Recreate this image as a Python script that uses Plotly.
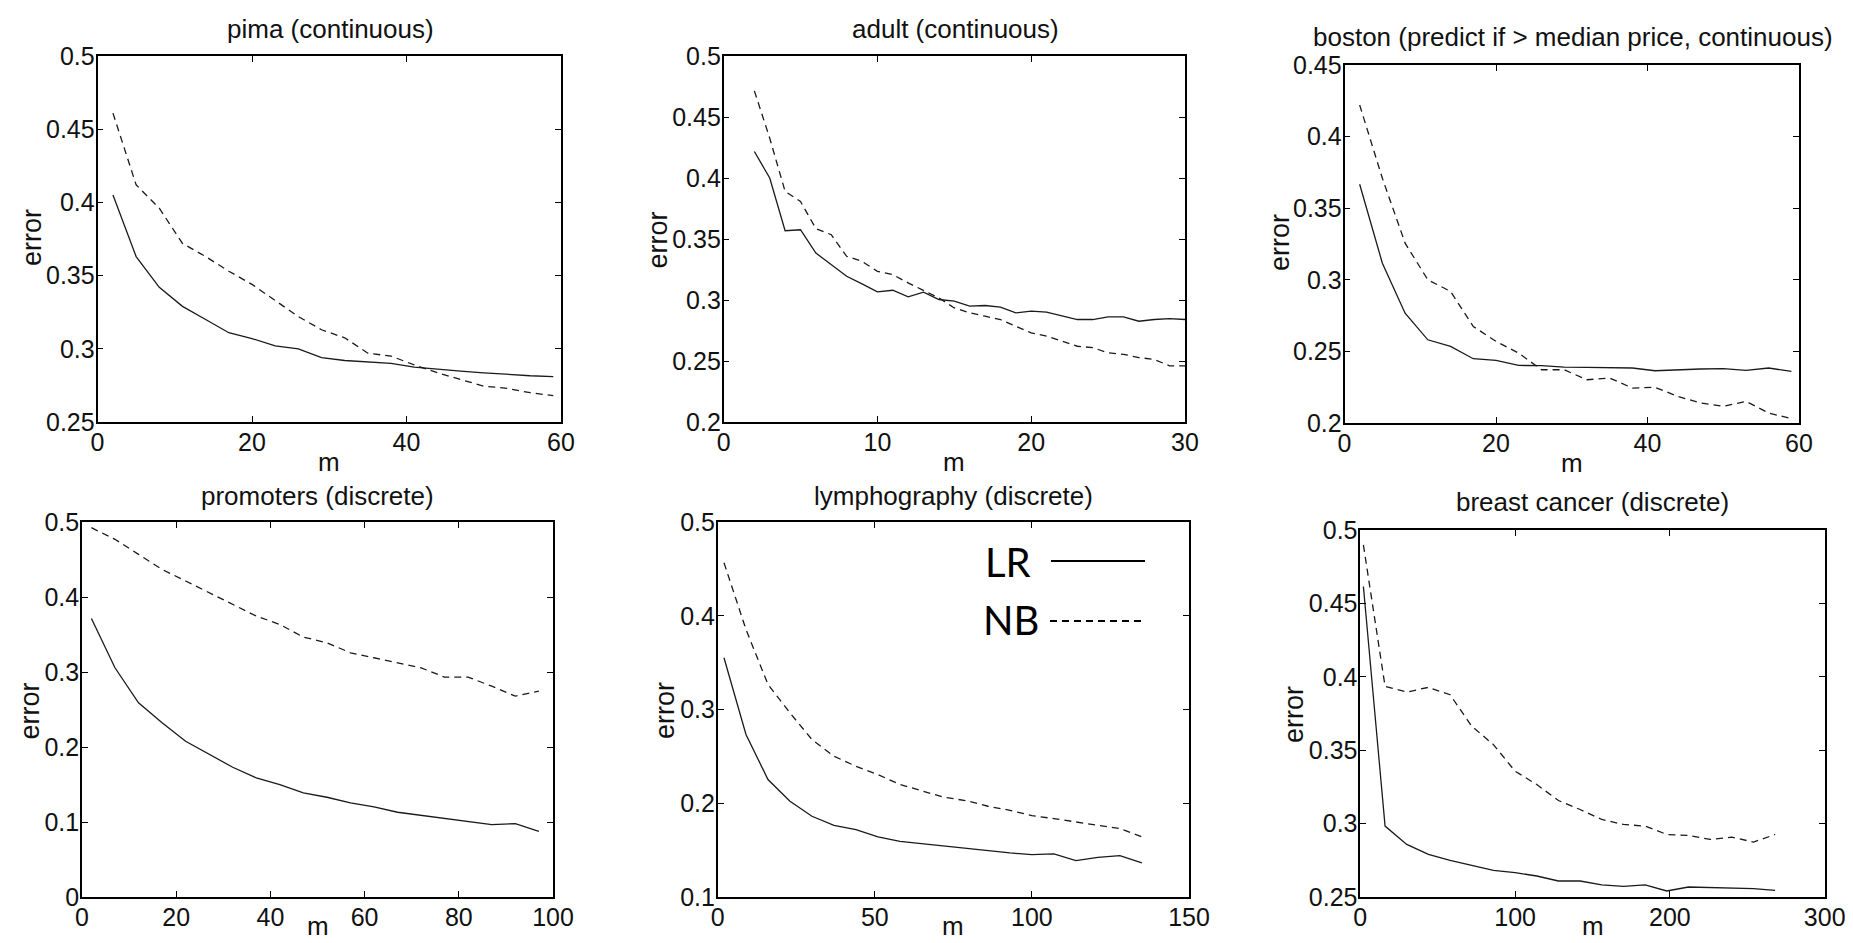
import plotly.graph_objects as go

# ---------------- data ----------------
pima_m = [2, 5, 8, 11, 14, 17, 20, 23, 26, 29, 32, 35, 38, 41, 44, 47, 50, 53, 56, 59]
pima_lr = [0.405, 0.363, 0.342, 0.329, 0.320, 0.311, 0.307, 0.302, 0.300, 0.294,
           0.292, 0.291, 0.290, 0.2875, 0.286, 0.2848, 0.2836, 0.2825, 0.2816, 0.281]
pima_nb = [0.461, 0.412, 0.396, 0.372, 0.363, 0.353, 0.344, 0.333, 0.322, 0.313,
           0.3075, 0.297, 0.295, 0.289, 0.2836, 0.279, 0.2745, 0.273, 0.270, 0.268]

adult_m = [2, 3, 4, 5, 6, 7, 8, 9, 10, 11, 12, 13, 14, 15, 16, 17, 18, 19, 20, 21,
           22, 23, 24, 25, 26, 27, 28, 29, 30]
adult_lr = [0.4217, 0.400, 0.3568, 0.3576, 0.3385, 0.329, 0.3195, 0.3132, 0.3066, 0.308,
            0.3026, 0.3064, 0.3004, 0.299, 0.295, 0.2955, 0.2941, 0.2895, 0.2908, 0.290,
            0.2867, 0.284, 0.284, 0.2862, 0.2862, 0.2826, 0.284, 0.2848, 0.284]
adult_nb = [0.4714, 0.4326, 0.389, 0.3808, 0.3585, 0.3535, 0.3358, 0.3317, 0.3235, 0.3208,
            0.314, 0.3077, 0.3017, 0.2935, 0.2895, 0.2867, 0.284, 0.2785, 0.273, 0.2704,
            0.2663, 0.2621, 0.261, 0.2567, 0.2555, 0.2528, 0.2513, 0.246, 0.246]

boston_m = [2, 5, 8, 11, 14, 17, 20, 23, 26, 29, 32, 35, 38, 41, 44, 47, 50, 53, 56, 59]
boston_lr = [0.3667, 0.3116, 0.2767, 0.2581, 0.2535, 0.2449, 0.2437, 0.2402, 0.2400, 0.2390,
             0.2388, 0.2388, 0.2384, 0.2365, 0.2372, 0.2377, 0.2380, 0.2367, 0.2384, 0.2360]
boston_nb = [0.4221, 0.3709, 0.3256, 0.3000, 0.2919, 0.2674, 0.2570, 0.2488, 0.2372, 0.2372,
             0.2302, 0.2314, 0.2244, 0.2249, 0.2186, 0.2140, 0.2116, 0.2151, 0.2070, 0.2030]

promoters_m = [2, 7, 12, 17, 22, 27, 32, 37, 42, 47, 52, 57, 62, 67, 72, 77, 82, 87, 92, 97]
promoters_lr = [0.3714, 0.3056, 0.2589, 0.2322, 0.2077, 0.190, 0.173, 0.1588, 0.1499, 0.1388,
                0.133, 0.1254, 0.1201, 0.113, 0.109, 0.1054, 0.101, 0.0965, 0.0979, 0.0876]
promoters_nb = [0.4924, 0.4769, 0.4569, 0.4368, 0.4213, 0.4057, 0.3892, 0.3746, 0.3634, 0.3465,
                0.339, 0.3256, 0.319, 0.3123, 0.3056, 0.2931, 0.2931, 0.2811, 0.2678, 0.2745]

lympho_m = [2, 9, 16, 23, 30, 37, 44, 51, 58, 65, 72, 79, 86, 93, 100, 107, 114, 121, 128, 135]
lympho_lr = [0.3552, 0.2733, 0.2253, 0.2021, 0.1861, 0.1765, 0.1719, 0.1641, 0.1594, 0.1569,
             0.1541, 0.1516, 0.1495, 0.147, 0.1452, 0.1459, 0.1388, 0.1423, 0.1441, 0.1363]
lympho_nb = [0.4566, 0.3854, 0.3267, 0.2964, 0.268, 0.2502, 0.2395, 0.2306, 0.220, 0.2128,
             0.2064, 0.2028, 0.1968, 0.1925, 0.1868, 0.1836, 0.1797, 0.1765, 0.173, 0.1641]

breast_m = [2, 16, 30, 44, 58, 72, 86, 100, 114, 128, 142, 156, 170, 184, 198, 212, 226, 240, 254, 268]
breast_lr = [0.4615, 0.2983, 0.2858, 0.279, 0.2749, 0.2715, 0.2681, 0.2666, 0.2643, 0.2609,
             0.2609, 0.2582, 0.2573, 0.2582, 0.2541, 0.2568, 0.2564, 0.2559, 0.2557, 0.2545]
breast_nb = [0.4898, 0.3935, 0.3896, 0.3928, 0.3878, 0.3663, 0.3538, 0.3357, 0.3266, 0.3157,
             0.3096, 0.3028, 0.2994, 0.2983, 0.2926, 0.2919, 0.2892, 0.2908, 0.2874, 0.2926]

titles = ["pima (continuous)", "adult (continuous)",
          "boston (predict if > median price, continuous)",
          "promoters (discrete)", "lymphography (discrete)", "breast cancer (discrete)"]

x_ticks = [[0, 20, 40, 60], [0, 10, 20, 30], [0, 20, 40, 60],
           [0, 20, 40, 60, 80, 100], [0, 50, 100, 150], [0, 100, 200, 300]]
y_ticks = [[0.25, 0.3, 0.35, 0.4, 0.45, 0.5], [0.2, 0.25, 0.3, 0.35, 0.4, 0.45, 0.5],
           [0.2, 0.25, 0.3, 0.35, 0.4, 0.45], [0, 0.1, 0.2, 0.3, 0.4, 0.5],
           [0.1, 0.2, 0.3, 0.4, 0.5], [0.25, 0.3, 0.35, 0.4, 0.45, 0.5]]

series_names = ["LR", "NB"]

datasets = [
    (pima_m, pima_lr, pima_nb),
    (adult_m, adult_lr, adult_nb),
    (boston_m, boston_lr, boston_nb),
    (promoters_m, promoters_lr, promoters_nb),
    (lympho_m, lympho_lr, lympho_nb),
    (breast_m, breast_lr, breast_nb),
]

# ---------------- layout (pixel boxes of each panel) ----------------
W, H = 1853, 943
boxes = [  # left, right, top, bottom in pixels
    (89.5, 553, 48, 414),
    (715.6, 1177, 48, 414),
    (1336.5, 1791, 57, 415),
    (74, 545, 514, 889),
    (709.7, 1181, 514, 889),
    (1352.3, 1816.7, 522, 889),
]
title_pos = [(322, 21), (947, 21), (1565, 29), (309, 488), (945, 488), (1584.5, 494)]
ylabel_pos = [(24, 230), (649.5, 232), (1272, 235), (21.6, 703), (657, 703), (1286, 707)]

FONT = "Liberation Sans, Arial, Helvetica, sans-serif"
INK = "#111111"


def px_x(v):
    return v / W


def px_y(v):
    return 1 - v / H


fig = go.Figure()
layout = dict(
    template="none",
    width=W, height=H, autosize=False,
    margin=dict(l=0, r=0, t=0, b=0, pad=0, autoexpand=False),
    paper_bgcolor="white", plot_bgcolor="white",
    showlegend=False,
    font=dict(family=FONT, color=INK),
)
annotations = []

for i, ((m, lr, nb), box) in enumerate(zip(datasets, boxes)):
    k = "" if i == 0 else str(i + 1)
    xa, ya = "x" + k, "y" + k
    fig.add_trace(go.Scatter(x=m, y=lr, mode="lines", name=series_names[0],
                             line=dict(color="#1a1a1a", width=1.3),
                             xaxis=xa, yaxis=ya))
    fig.add_trace(go.Scatter(x=m, y=nb, mode="lines", name=series_names[1],
                             line=dict(color="#1a1a1a", width=1.3, dash="7px,5px"),
                             xaxis=xa, yaxis=ya))
    l, r, t, b = box
    xt, yt = x_ticks[i], y_ticks[i]
    common = dict(showline=True, mirror="allticks", linecolor="black", linewidth=1.6,
                  ticks="inside", ticklen=6, tickwidth=1, tickcolor="black",
                  showgrid=False, zeroline=False, fixedrange=True, automargin=False,
                  tickfont=dict(family=FONT, size=25, color=INK))
    layout["xaxis" + k] = dict(domain=[px_x(l), px_x(r)], anchor=ya,
                               range=[xt[0], xt[-1]], tickvals=xt,
                               ticktext=[f"{v:g}" for v in xt],
                               ticklabelstandoff=-3, **common)
    layout["yaxis" + k] = dict(domain=[px_y(b), px_y(t)], anchor=xa,
                               range=[yt[0], yt[-1]], tickvals=yt,
                               ticktext=[f"{v:g}" for v in yt],
                               ticklabelstandoff=-4, **common)
    tx, ty = title_pos[i]
    annotations.append(dict(text=titles[i], x=px_x(tx), y=px_y(ty), xref="paper", yref="paper",
                            xanchor="center", yanchor="middle", showarrow=False,
                            font=dict(family=FONT, size=26, color=INK)))
    ex, ey = ylabel_pos[i]
    annotations.append(dict(text="error", x=px_x(ex), y=px_y(ey), xref="paper", yref="paper",
                            xanchor="center", yanchor="middle", showarrow=False, textangle=-90,
                            font=dict(family=FONT, size=27, color=INK)))
    if i < 3:
        m_y, m_anchor = px_y(b + 40), "middle"
    else:
        m_y, m_anchor = px_y(935), "bottom"
    annotations.append(dict(text="m", x=px_x((l + r) / 2), y=m_y, xref="paper", yref="paper",
                            xanchor="center", yanchor=m_anchor, showarrow=False,
                            font=dict(family=FONT, size=26, color=INK)))

# legend drawn inside the lymphography panel
LEG_FONT = "Lato, Open Sans, sans-serif"
annotations.append(dict(text=series_names[0], x=px_x(975), y=px_y(554), xref="paper", yref="paper",
                        xanchor="left", yanchor="middle", showarrow=False,
                        font=dict(family=LEG_FONT, size=40, color="black")))
annotations.append(dict(text=series_names[1], x=px_x(973), y=px_y(612), xref="paper", yref="paper",
                        xanchor="left", yanchor="middle", showarrow=False,
                        font=dict(family=LEG_FONT, size=40, color="black")))
shapes = [
    dict(type="line", xref="paper", yref="paper", x0=px_x(1043), x1=px_x(1137),
         y0=px_y(553), y1=px_y(553), line=dict(color="black", width=1.8)),
    dict(type="line", xref="paper", yref="paper", x0=px_x(1042), x1=px_x(1136),
         y0=px_y(613), y1=px_y(613), line=dict(color="black", width=1.8, dash="7px,5px")),
]

layout["annotations"] = annotations
layout["shapes"] = shapes
fig.update_layout(**layout)
fig.write_html("out.html")
